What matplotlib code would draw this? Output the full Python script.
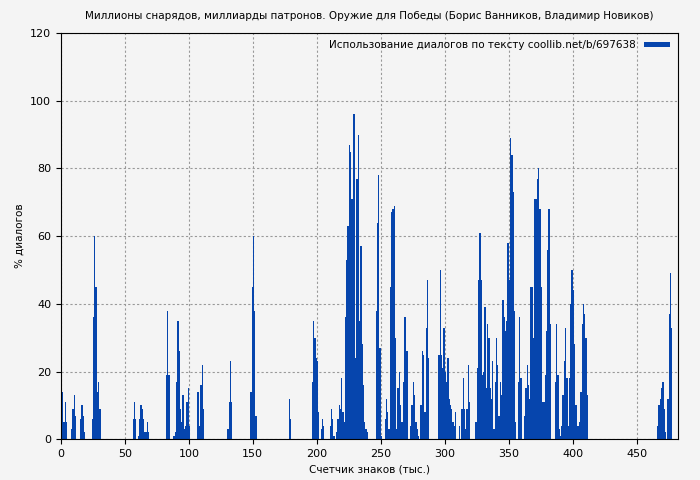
import matplotlib
matplotlib.use("Agg")
import matplotlib.pyplot as plt

# segments: start position -> consecutive values (% of dialogues per 1k chars)
seg_starts = [0, 8, 15, 24, 56, 82, 88, 106, 130, 148, 178, 196, 203, 210, 215,
              246, 253, 257, 262, 273, 281, 295, 311, 314, 324, 357, 362, 364,
              376, 386, 391, 466, 474]
seg_values = [
    [18, 14, 5, 11, 5],
    [3, 9, 13, 7],
    [6, 10, 7, 2],
    [6, 36, 60, 45, 14, 17, 9],
    [6, 11, 6, 0, 1, 6, 10, 9, 6, 2, 2, 5, 2],
    [19, 38, 19],
    [1, 2, 17, 35, 26, 9, 5, 13, 3, 4, 11, 15, 4],
    [14, 14, 4, 16, 22, 9],
    [3, 11, 23, 11],
    [14, 45, 60, 38, 7],
    [12, 6],
    [17, 35, 30, 24, 23, 8],
    [3, 6, 4],
    [4, 9, 6, 1],
    [2, 6, 10, 9, 18, 8, 5, 36, 53, 63, 87, 85, 71, 96, 96, 24, 77, 90, 35, 57, 28, 16, 5, 3, 2],
    [38, 64, 78, 27, 1],
    [6, 12, 8, 3],
    [45, 67, 68, 69, 30],
    [3, 15, 20, 10, 5, 17, 36, 36, 26],
    [4, 10, 17, 13, 5, 3, 1],
    [10, 26, 25, 8, 33, 47, 24],
    [25, 50, 25, 21, 33, 20, 17, 24, 12, 10, 9, 5, 4, 8],
    [4, 0, 9, 18, 9],
    [5, 8, 3, 9, 22, 11],
    [5, 21, 47, 61, 47, 19, 20, 39, 15, 34, 30, 15, 12, 23, 3, 17, 30, 22, 7, 17, 13, 41, 36,
     32, 35, 58, 47, 89, 84, 73, 38, 5],
    [17, 36, 18],
    [7, 15],
    [22, 16, 12, 45, 45, 30, 71, 71, 77, 80, 68, 45, 11],
    [4, 11, 19, 32, 56, 68, 34],
    [17, 34, 19, 3, 1],
    [4, 13, 23, 33, 18, 4, 18, 40, 50, 44, 28, 10, 4, 4, 5, 14, 34, 40, 37, 30, 13],
    [4, 10, 12, 15, 17, 9, 2],
    [12, 37, 49, 33],
]

xs, ys = [], []
for s, vals in zip(seg_starts, seg_values):
    for i, v in enumerate(vals):
        xs.append(s + i)
        ys.append(v)

bg = "#f4f4f4"
fig = plt.figure(figsize=(7, 4.8), dpi=100, facecolor=bg)
ax = fig.add_axes([0.087, 0.085, 0.881, 0.846], facecolor=bg)
ax.bar(xs, ys, width=1.0, align="edge", color="#0645ad", linewidth=0,
       label="Использование диалогов по тексту coollib.net/b/697638")
ax.set_xlim(0, 482)
ax.set_ylim(0, 120)
ax.set_xticks(range(0, 451, 50))
ax.set_yticks(range(0, 121, 20))
ax.grid(True, color="#999999", linestyle=(0, (2, 2)), linewidth=0.8)
ax.set_axisbelow(True)
ax.tick_params(labelsize=8)
ax.set_xlabel("Счетчик знаков (тыс.)", fontsize=7.5)
ax.set_ylabel("% диалогов", fontsize=7.5)
ax.set_title("Миллионы снарядов, миллиарды патронов. Оружие для Победы (Борис Ванников, Владимир Новиков)",
             fontsize=7.5, pad=10)
leg = ax.legend(loc="upper right", fontsize=7.5, frameon=False, markerfirst=False,
                handlelength=2.5, handleheight=0.4, borderaxespad=0.3)
fig.savefig("out.png", dpi=100, facecolor=bg)
